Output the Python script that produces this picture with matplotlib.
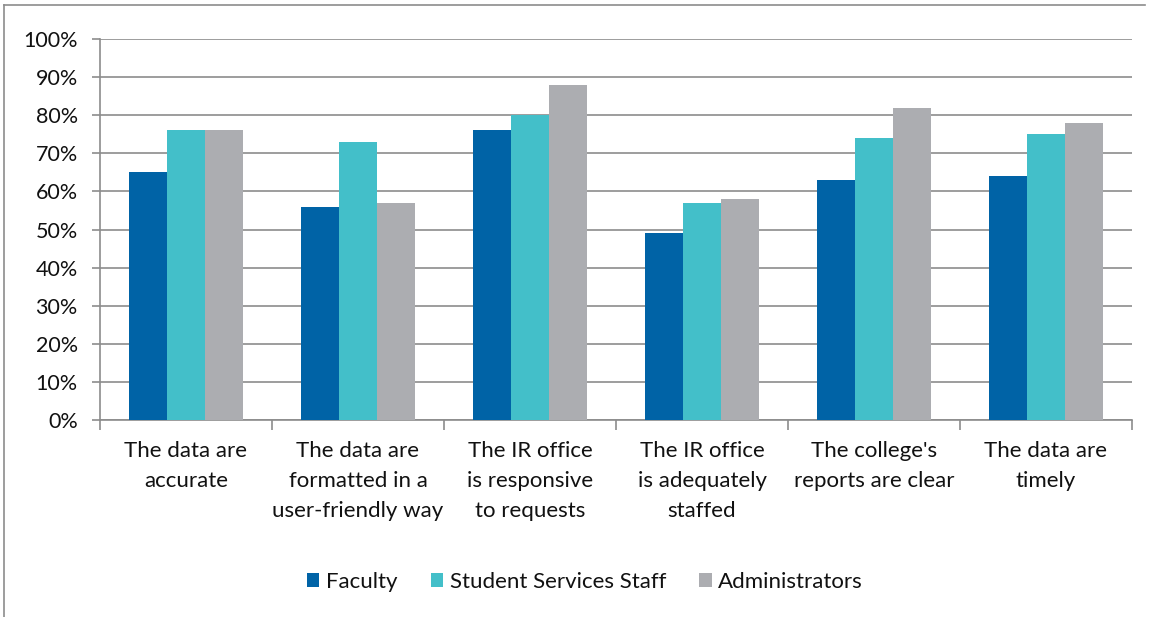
import numpy as np
import matplotlib.pyplot as plt
from matplotlib.lines import Line2D
from matplotlib.ticker import FixedLocator

categories = ["The data are\naccurate",
              "The data are\nformatted in a\nuser-friendly way",
              "The IR office\nis responsive\nto requests",
              "The IR office\nis adequately\nstaffed",
              "The college's\nreports are clear",
              "The data are\ntimely"]
series = ["Faculty", "Student Services Staff", "Administrators"]
faculty = [65, 56, 76, 49, 63, 64]
student = [76, 73, 80, 57, 74, 75]
admin = [76, 57, 88, 58, 82, 78]
colors = ["#0063A6", "#43BFC9", "#ACADB1"]

plt.rcParams["font.family"] = ["Lato", "DejaVu Sans"]
fig = plt.figure(figsize=(11.51, 6.17), dpi=100)
ax = fig.add_axes([100/1151, 1-420/617, 1032/1151, 381/617])

x = np.arange(len(categories))
w = 1/4.5
for i, (vals, name) in enumerate(zip([faculty, student, admin], series)):
    ax.bar(x + (i-1)*w, vals, width=w, color=colors[i], label=name, zorder=3)

ax.set_xlim(-0.5, len(categories)-0.5)
ax.set_ylim(0, 100)
ax.set_yticks(np.arange(0, 101, 10))
ax.set_yticklabels([f"{v}%" for v in range(0, 101, 10)], fontsize=15.5, color="#111111")
ax.yaxis.grid(True, color="#8C8C8C", linewidth=1.2, zorder=0)
ax.tick_params(axis="y", length=6, color="#8C8C8C", width=1.2, pad=10)
ax.set_xticks(x)
ax.set_xticklabels(categories, fontsize=16, linespacing=1.62, va="top", color="#111111")
ax.tick_params(axis="x", which="major", length=0, pad=15)
ax.xaxis.set_minor_locator(FixedLocator(np.arange(-0.5, len(categories), 1)))
ax.tick_params(axis="x", which="minor", length=7, color="#8C8C8C", width=1.2)
for s in ["top", "right"]:
    ax.spines[s].set_visible(False)
for s in ["left", "bottom"]:
    ax.spines[s].set_color("#8C8C8C")
    ax.spines[s].set_linewidth(1.2)

leg = fig.legend(loc="center", bbox_to_anchor=(585/1151, 1-582/617), ncol=3,
                 frameon=False, fontsize=16, handlelength=0.55, handleheight=0.55,
                 handletextpad=0.3, columnspacing=1.5)
for t in leg.get_texts():
    t.set_color("#111111")

# outer frame (left and top edges visible)
fig.add_artist(Line2D([4/1151, 4/1151], [0, 1-5/617], transform=fig.transFigure,
                      color="#8C8C8C", linewidth=1.2))
fig.add_artist(Line2D([4/1151, 1145/1151], [1-5/617, 1-5/617], transform=fig.transFigure,
                      color="#8C8C8C", linewidth=1.2))

fig.savefig("out.png", dpi=100)
